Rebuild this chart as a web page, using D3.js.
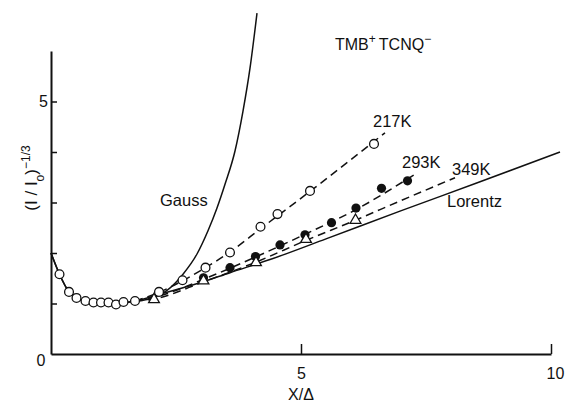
<!DOCTYPE html>
<html>
<head>
<meta charset="utf-8">
<script src="https://cdn.jsdelivr.net/npm/d3@7"></script>
<style>
  body { margin:0; background:#fff; }
  svg text { font-family: "Liberation Sans", Arial, sans-serif; fill:#111; }
</style>
</head>
<body>
<svg id="chart" width="569" height="402"></svg>
<script>
// measured points, all temperatures coincide at small X/Δ
var lowX = [0.17, 0.36, 0.51, 0.69, 0.85, 1.0, 1.15, 1.30, 1.45, 1.68];
var lowY = [1.58, 1.23, 1.11, 1.05, 1.02, 1.02, 1.02, 0.98, 1.03, 1.05];

var k217X = [2.16, 2.63, 3.09, 3.58, 4.19, 4.53, 5.18, 6.46];
var k217Y = [1.23, 1.46, 1.71, 2.01, 2.52, 2.77, 3.23, 4.16];
var k293X = [3.05, 3.58, 4.09, 4.58, 5.08, 5.61, 6.10, 6.61, 7.13];
var k293Y = [1.51, 1.71, 1.93, 2.16, 2.36, 2.60, 2.89, 3.28, 3.43];
var k349X = [2.06, 3.05, 4.10, 5.10, 6.09];
var k349Y = [1.08, 1.45, 1.81, 2.27, 2.65];

// theory curves (shared low part, then Gauss / Lorentz branches)
var baseX = [0, 0.17, 0.36, 0.51, 0.7, 1.0, 1.3, 1.64];
var baseY = [2.0, 1.58, 1.23, 1.11, 1.04, 1.0, 1.0, 1.04];
var gaussX = [2.0, 2.32, 2.64, 2.92, 3.14, 3.32, 3.48, 3.68, 3.84, 3.98, 4.12];
var gaussY = [1.1, 1.26, 1.58, 1.98, 2.44, 2.89, 3.36, 4.02, 4.81, 5.66, 6.75];
var lorentzX = [2.2, 2.98, 3.58, 4.38, 5.5, 6.98, 8.5, 10.18];
var lorentzY = [1.19, 1.41, 1.61, 1.87, 2.28, 2.83, 3.38, 4.0];

// dashed guide lines through each temperature
var fit217X = [1.68, 2.16, 2.63, 3.09, 3.58, 4.19, 5.18, 6.68];
var fit217Y = [1.05, 1.22, 1.45, 1.71, 2.02, 2.48, 3.22, 4.38];
var fit293X = [1.68, 2.2, 3.05, 4.09, 5.08, 6.10, 7.28];
var fit293Y = [1.05, 1.16, 1.48, 1.92, 2.37, 2.86, 3.56];
var fit349X = [1.68, 2.06, 3.05, 4.10, 5.10, 6.09, 6.98, 8.08];
var fit349Y = [1.05, 1.09, 1.43, 1.82, 2.25, 2.65, 3.03, 3.49];

var xTicks = [5, 10];
var yTicks = [1, 2, 3, 4, 5];

function pts(xs, ys) { return xs.map(function(v, i){ return [v, ys[i]]; }); }

var svg = d3.select("#chart");
var x = d3.scaleLinear().domain([0, 10]).range([51, 551]);
var y = d3.scaleLinear().domain([0, 6]).range([354, 51]);

var line = d3.line()
	.x(function(d){ return x(d[0]); })
	.y(function(d){ return y(d[1]); })
	.curve(d3.curveMonotoneX);

// axes
var xAxis = svg.append("g").attr("transform", "translate(0," + y(0) + ")")
	.call(d3.axisBottom(x).tickValues(xTicks).tickSize(-10).tickSizeOuter(0).tickPadding(14));
var yAxis = svg.append("g").attr("transform", "translate(" + x(0) + ",0)")
	.call(d3.axisLeft(y).tickValues(yTicks).tickSize(-6).tickSizeOuter(0).tickPadding(3)
		.tickFormat(function(d){ return d == 5 ? "5" : ""; }));

[xAxis, yAxis].forEach(function(a){
	a.select(".domain").attr("stroke", "#111").attr("stroke-width", 2);
	a.selectAll(".tick line").attr("stroke", "#111").attr("stroke-width", 1.5);
	a.selectAll(".tick text").style("font-size", "16px").attr("fill", "#111");
});
xAxis.selectAll(".tick text").filter(function(d){ return d == 10; }).attr("dx", 4);

svg.append("text").attr("x", x(0) - 10).attr("y", y(0) + 12)
	.attr("text-anchor", "middle").style("font-size", "16px").text("0");

svg.append("text").attr("x", x(5)).attr("y", 400)
	.attr("text-anchor", "middle").style("font-size", "16px").text("X/Δ");

var yl = svg.append("text").attr("transform", "translate(37,178) rotate(-90)")
	.attr("text-anchor", "middle").style("font-size", "17px");
yl.append("tspan").text("(I / I");
yl.append("tspan").attr("baseline-shift", "sub").style("font-size", "12px").text("o");
yl.append("tspan").text(")");
yl.append("tspan").attr("baseline-shift", "super").style("font-size", "12px").text("−1/3");

// curves
var base = pts(baseX, baseY);
svg.append("path").datum(base.concat(pts(gaussX, gaussY)))
	.attr("d", line).attr("fill", "none").attr("stroke", "#111").attr("stroke-width", 1.5);
svg.append("path").datum(base.concat(pts(lorentzX, lorentzY)))
	.attr("d", line).attr("fill", "none").attr("stroke", "#111").attr("stroke-width", 1.5);

[[fit217X, fit217Y], [fit293X, fit293Y], [fit349X, fit349Y]].forEach(function(f){
	svg.append("path").datum(pts(f[0], f[1]))
		.attr("d", line).attr("fill", "none").attr("stroke", "#111")
		.attr("stroke-width", 1.5).attr("stroke-dasharray", "8,5");
});

// markers
svg.selectAll(".open").data(pts(lowX.concat(k217X), lowY.concat(k217Y))).enter()
	.append("circle").attr("class", "open")
	.attr("cx", function(d){ return x(d[0]); }).attr("cy", function(d){ return y(d[1]); })
	.attr("r", 4.4).attr("fill", "#fff").attr("stroke", "#111").attr("stroke-width", 1.3);

svg.selectAll(".filled").data(pts(k293X, k293Y)).enter()
	.append("circle").attr("class", "filled")
	.attr("cx", function(d){ return x(d[0]); }).attr("cy", function(d){ return y(d[1]); })
	.attr("r", 4.6).attr("fill", "#111");

svg.selectAll(".tri").data(pts(k349X, k349Y)).enter()
	.append("path").attr("class", "tri")
	.attr("transform", function(d){ return "translate(" + x(d[0]) + "," + y(d[1]) + ")"; })
	.attr("d", d3.symbol().type(d3.symbolTriangle).size(50))
	.attr("fill", "#fff").attr("stroke", "#111").attr("stroke-width", 1.3);

// labels
function label(tx, ty, s) {
	return svg.append("text").attr("x", tx).attr("y", ty).style("font-size", "16.5px").text(s);
}
label(160, 206, "Gauss");
label(447, 207, "Lorentz");
label(373, 127, "217K");
label(402, 168, "293K");
label(452, 175, "349K");

var t = svg.append("text").attr("x", 335).attr("y", 50).style("font-size", "16px");
t.append("tspan").text("TMB");
t.append("tspan").attr("baseline-shift", "super").style("font-size", "12px").text("+");
t.append("tspan").attr("dx", 3).text("TCNQ");
t.append("tspan").attr("baseline-shift", "super").style("font-size", "12px").text("−");
</script>
</body>
</html>
